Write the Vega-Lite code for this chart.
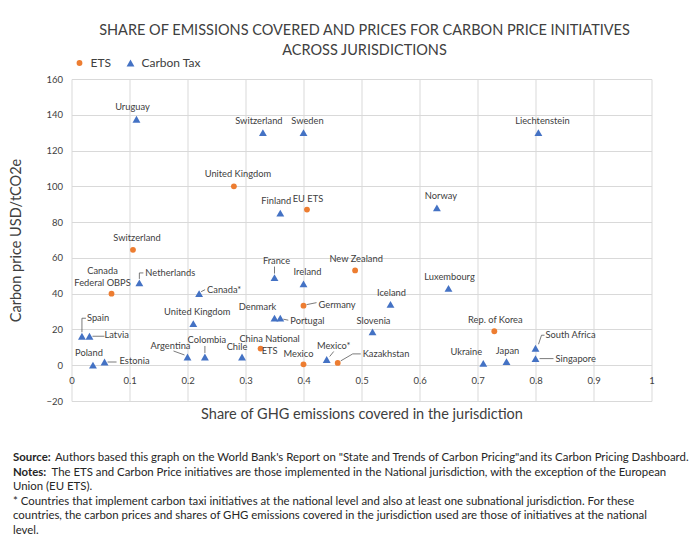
{
  "$schema": "https://vega.github.io/schema/vega-lite/v6.json",
  "padding": {"left": 8.5, "top": 22, "right": 5, "bottom": 5},
  "background": "white",
  "spacing": 29,
  "datasets": {
    "points": [
      {"label": "United Kingdom", "type": "ETS", "share": 0.28, "price": 100},
      {"label": "EU ETS", "type": "ETS", "share": 0.406, "price": 87},
      {"label": "Switzerland", "type": "ETS", "share": 0.106, "price": 64.5},
      {"label": "Canada\nFederal OBPS", "type": "ETS", "share": 0.069, "price": 40},
      {"label": "New Zealand", "type": "ETS", "share": 0.489, "price": 53},
      {"label": "Germany", "type": "ETS", "share": 0.40, "price": 33.3},
      {"label": "China National\nETS", "type": "ETS", "share": 0.326, "price": 9.3},
      {"label": "Mexico", "type": "ETS", "share": 0.40, "price": 0.5},
      {"label": "Kazakhstan", "type": "ETS", "share": 0.459, "price": 1.3},
      {"label": "Rep. of Korea", "type": "ETS", "share": 0.729, "price": 19},
      {"label": "Uruguay", "type": "Carbon Tax", "share": 0.112, "price": 137.5},
      {"label": "Switzerland", "type": "Carbon Tax", "share": 0.33, "price": 130},
      {"label": "Sweden", "type": "Carbon Tax", "share": 0.40, "price": 130},
      {"label": "Liechtenstein", "type": "Carbon Tax", "share": 0.805, "price": 130},
      {"label": "Finland", "type": "Carbon Tax", "share": 0.36, "price": 85},
      {"label": "Norway", "type": "Carbon Tax", "share": 0.63, "price": 88},
      {"label": "France", "type": "Carbon Tax", "share": 0.35, "price": 49},
      {"label": "Ireland", "type": "Carbon Tax", "share": 0.40, "price": 45.5},
      {"label": "Netherlands", "type": "Carbon Tax", "share": 0.117, "price": 46},
      {"label": "Canada*", "type": "Carbon Tax", "share": 0.22, "price": 40},
      {"label": "Luxembourg", "type": "Carbon Tax", "share": 0.65, "price": 43},
      {"label": "Iceland", "type": "Carbon Tax", "share": 0.55, "price": 34},
      {"label": "Denmark", "type": "Carbon Tax", "share": 0.35, "price": 26.3},
      {"label": "Portugal", "type": "Carbon Tax", "share": 0.36, "price": 26.3},
      {"label": "United Kingdom", "type": "Carbon Tax", "share": 0.21, "price": 23.3},
      {"label": "Slovenia", "type": "Carbon Tax", "share": 0.519, "price": 18.6},
      {"label": "Spain", "type": "Carbon Tax", "share": 0.018, "price": 16.2},
      {"label": "Latvia", "type": "Carbon Tax", "share": 0.031, "price": 16.2},
      {"label": "Argentina", "type": "Carbon Tax", "share": 0.20, "price": 4.6},
      {"label": "Colombia", "type": "Carbon Tax", "share": 0.23, "price": 4.6},
      {"label": "Chile", "type": "Carbon Tax", "share": 0.294, "price": 4.6},
      {"label": "Mexico*", "type": "Carbon Tax", "share": 0.44, "price": 3.2},
      {"label": "Poland", "type": "Carbon Tax", "share": 0.037, "price": 0.1},
      {"label": "Estonia", "type": "Carbon Tax", "share": 0.057, "price": 1.8},
      {"label": "South Africa", "type": "Carbon Tax", "share": 0.80, "price": 9.5},
      {"label": "Singapore", "type": "Carbon Tax", "share": 0.80, "price": 3.7},
      {"label": "Ukraine", "type": "Carbon Tax", "share": 0.71, "price": 1},
      {"label": "Japan", "type": "Carbon Tax", "share": 0.75, "price": 2}
    ],
    "notes": [
      {"line": 1, "bold": "Source:", "text": "Authors based this graph on the World Bank's Report on \"State and Trends of Carbon Pricing\"and its Carbon Pricing Dashboard."},
      {"line": 2, "bold": "Notes:", "text": "The ETS and Carbon Price initiatives are those implemented in the National jurisdiction, with the exception of the European"},
      {"line": 3, "bold": "", "text": "Union (EU ETS)."},
      {"line": 4, "bold": "", "text": "* Countries that implement carbon taxi initiatives at the national level and also at least one subnational jurisdiction. For these"},
      {"line": 5, "bold": "", "text": "countries, the carbon prices and shares of GHG emissions covered in the jurisdiction used are those of initiatives at the national"},
      {"line": 6, "bold": "", "text": "level."}
    ]
  },
  "vconcat": [
    {
      "width": 580,
      "height": 322,
      "data": {"name": "points"},
      "title": {
        "text": ["SHARE OF EMISSIONS COVERED AND PRICES FOR CARBON PRICE INITIATIVES", "ACROSS JURISDICTIONS"],
        "font": "Lato", "fontSize": 14.5, "fontWeight": "normal", "color": "#404040",
        "lineHeight": 20, "anchor": "middle", "offset": 16, "dx": 3
      },
      "encoding": {
        "x": {
          "field": "share", "type": "quantitative",
          "scale": {"domain": [0, 1], "nice": false},
          "axis": {
            "title": "Share of GHG emissions covered in the jurisdiction",
            "values": [0, 0.1, 0.2, 0.3, 0.4, 0.5, 0.6, 0.7, 0.8, 0.9, 1],
            "format": "~g", "offset": -35.8, "domain": false, "ticks": false,
            "labelPadding": 10, "labelFlush": false, "titlePadding": 23,
            "titleFont": "Lato", "titleFontSize": 14.5, "titleFontWeight": "normal", "titleColor": "#404040",
            "labelFont": "Lato", "labelFontSize": 9.5, "labelColor": "#404040",
            "grid": true, "gridColor": "#d9d9d9"
          }
        },
        "y": {
          "field": "price", "type": "quantitative",
          "scale": {"domain": [-20, 160], "nice": false},
          "axis": {
            "title": "Carbon price USD/tCO2e",
            "values": [-20, 0, 20, 40, 60, 80, 100, 120, 140, 160],
            "domain": false, "ticks": false, "labelPadding": 9, "labelFlush": false,
            "titlePadding": 22,
            "titleFont": "Lato", "titleFontSize": 14.5, "titleFontWeight": "normal", "titleColor": "#404040",
            "labelFont": "Lato", "labelFontSize": 9.5, "labelColor": "#404040",
            "grid": true, "gridColor": "#d9d9d9"
          }
        }
      },
      "layer": [
        {"transform": [{"filter": "datum.label=='Latvia'"}], "mark": {"type": "rule", "color": "#595959", "strokeWidth": 0.8, "xOffset": 3, "x2Offset": 15}, "encoding": {"x2": {"field": "share"}, "y2": {"field": "price"}}},
        {"transform": [{"filter": "datum.label=='Estonia'"}], "mark": {"type": "rule", "color": "#595959", "strokeWidth": 0.8, "xOffset": 3, "x2Offset": 12}, "encoding": {"x2": {"field": "share"}, "y2": {"field": "price"}}},
        {"transform": [{"filter": "datum.label=='Singapore'"}], "mark": {"type": "rule", "color": "#595959", "strokeWidth": 0.8, "xOffset": 4, "x2Offset": 18}, "encoding": {"x2": {"field": "share"}, "y2": {"field": "price"}}},
        {"transform": [{"filter": "datum.label=='Germany'"}], "mark": {"type": "rule", "color": "#595959", "strokeWidth": 0.8, "xOffset": 3, "yOffset": -1, "x2Offset": 13, "y2Offset": -3}, "encoding": {"x2": {"field": "share"}, "y2": {"field": "price"}}},
        {"transform": [{"filter": "datum.label=='Portugal'"}], "mark": {"type": "rule", "color": "#595959", "strokeWidth": 0.8, "xOffset": 3, "yOffset": 1, "x2Offset": 8, "y2Offset": 2}, "encoding": {"x2": {"field": "share"}, "y2": {"field": "price"}}},
        {"transform": [{"filter": "datum.label=='Kazakhstan'"}], "mark": {"type": "rule", "color": "#595959", "strokeWidth": 0.8, "xOffset": 3, "yOffset": -2, "x2Offset": 15, "y2Offset": -9}, "encoding": {"x2": {"field": "share"}, "y2": {"field": "price"}}},
        {"transform": [{"filter": "datum.label=='Kazakhstan'"}], "mark": {"type": "rule", "color": "#595959", "strokeWidth": 0.8, "xOffset": 15, "yOffset": -9, "x2Offset": 23, "y2Offset": -9}, "encoding": {"x2": {"field": "share"}, "y2": {"field": "price"}}},
        {"transform": [{"filter": "datum.label=='Mexico*'"}], "mark": {"type": "rule", "color": "#595959", "strokeWidth": 0.8, "xOffset": 3, "yOffset": -3, "x2Offset": 7, "y2Offset": -8}, "encoding": {"x2": {"field": "share"}, "y2": {"field": "price"}}},
        {"transform": [{"filter": "datum.label=='Argentina'"}], "mark": {"type": "rule", "color": "#595959", "strokeWidth": 0.8, "xOffset": -3, "yOffset": -2, "x2Offset": -14, "y2Offset": -6}, "encoding": {"x2": {"field": "share"}, "y2": {"field": "price"}}},
        {"transform": [{"filter": "datum.label=='France' || datum.label=='Colombia'"}], "mark": {"type": "rule", "color": "#595959", "strokeWidth": 0.8, "yOffset": -4, "y2Offset": -11}, "encoding": {"x2": {"field": "share"}, "y2": {"field": "price"}}},
        {"transform": [{"filter": "datum.label=='Spain'"}], "mark": {"type": "rule", "color": "#595959", "strokeWidth": 0.8, "yOffset": -4, "y2Offset": -18}, "encoding": {"x2": {"field": "share"}, "y2": {"field": "price"}}},
        {"transform": [{"filter": "datum.label=='Spain'"}], "mark": {"type": "rule", "color": "#595959", "strokeWidth": 0.8, "yOffset": -18, "x2Offset": 4, "y2Offset": -18}, "encoding": {"x2": {"field": "share"}, "y2": {"field": "price"}}},
        {"transform": [{"filter": "datum.label=='Netherlands'"}], "mark": {"type": "rule", "color": "#595959", "strokeWidth": 0.8, "yOffset": -4, "y2Offset": -10}, "encoding": {"x2": {"field": "share"}, "y2": {"field": "price"}}},
        {"transform": [{"filter": "datum.label=='Netherlands'"}], "mark": {"type": "rule", "color": "#595959", "strokeWidth": 0.8, "yOffset": -10, "x2Offset": 4, "y2Offset": -10}, "encoding": {"x2": {"field": "share"}, "y2": {"field": "price"}}},
        {"transform": [{"filter": "datum.label=='Canada*'"}], "mark": {"type": "rule", "color": "#595959", "strokeWidth": 0.8, "xOffset": 2, "yOffset": -2, "x2Offset": 6, "y2Offset": -4}, "encoding": {"x2": {"field": "share"}, "y2": {"field": "price"}}},
        {"transform": [{"filter": "datum.label=='South Africa'"}], "mark": {"type": "rule", "color": "#595959", "strokeWidth": 0.8, "xOffset": 3, "yOffset": -4, "x2Offset": 6, "y2Offset": -13}, "encoding": {"x2": {"field": "share"}, "y2": {"field": "price"}}},
        {"transform": [{"filter": "datum.label=='South Africa'"}], "mark": {"type": "rule", "color": "#595959", "strokeWidth": 0.8, "xOffset": 6, "yOffset": -13, "x2Offset": 9, "y2Offset": -13}, "encoding": {"x2": {"field": "share"}, "y2": {"field": "price"}}},
        {
          "mark": {"type": "point", "filled": true, "opacity": 1},
          "encoding": {
            "color": {"field": "type", "type": "nominal", "scale": {"domain": ["ETS", "Carbon Tax"], "range": ["#ED7D31", "#4472C4"]},
              "legend": {"title": null, "orient": "none", "legendX": 2, "legendY": -22, "direction": "horizontal", "labelFont": "Lato", "labelFontSize": 12, "labelColor": "#404040", "symbolSize": 40, "columnPadding": 13, "labelOffset": 5}},
            "shape": {"field": "type", "type": "nominal", "scale": {"domain": ["ETS", "Carbon Tax"], "range": ["circle", "triangle-up"]}},
            "size": {"field": "type", "type": "nominal", "scale": {"domain": ["ETS", "Carbon Tax"], "range": [34, 62]}, "legend": null}
          }
        },
        {"transform": [{"filter": {"or": [{"field": "label", "oneOf": ["Uruguay", "Finland", "Poland"]}, "datum.label=='Switzerland' && datum.type=='Carbon Tax'"]}}],
          "mark": {"type": "text", "dx": -4, "dy": -12, "align": "center", "baseline": "middle", "font": "Lato", "fontSize": 9.3, "color": "#404040"}, "encoding": {"text": {"field": "label"}}},
        {"transform": [{"filter": {"field": "label", "oneOf": ["Chile", "Mexico"]}}],
          "mark": {"type": "text", "dx": -5, "dy": -10, "align": "center", "baseline": "middle", "font": "Lato", "fontSize": 9.3, "color": "#404040"}, "encoding": {"text": {"field": "label"}}},
        {"transform": [{"filter": {"or": [{"field": "label", "oneOf": ["Sweden", "United Kingdom", "Liechtenstein", "Norway", "Ireland"]}, "datum.label=='Switzerland' && datum.type=='ETS'"]}}],
          "mark": {"type": "text", "dx": 4, "dy": -12, "align": "center", "baseline": "middle", "font": "Lato", "fontSize": 9.3, "color": "#404040"}, "encoding": {"text": {"field": "label"}}},
        {"transform": [{"filter": {"field": "label", "oneOf": ["Mexico*"]}}],
          "mark": {"type": "text", "dx": 7, "dy": -13, "align": "center", "baseline": "middle", "font": "Lato", "fontSize": 9.3, "color": "#404040"}, "encoding": {"text": {"field": "label"}}},
        {"transform": [{"filter": {"field": "label", "oneOf": ["EU ETS", "New Zealand", "Slovenia", "Luxembourg", "Iceland", "Rep. of Korea", "Japan"]}}],
          "mark": {"type": "text", "dx": 1, "dy": -11, "align": "center", "baseline": "middle", "font": "Lato", "fontSize": 9.3, "color": "#404040"}, "encoding": {"text": {"field": "label"}}},
        {"transform": [{"filter": {"field": "label", "oneOf": ["France", "Colombia"]}}],
          "mark": {"type": "text", "dx": 2, "dy": -17, "align": "center", "baseline": "middle", "font": "Lato", "fontSize": 9.3, "color": "#404040"}, "encoding": {"text": {"field": "label"}}},
        {"transform": [{"filter": {"field": "label", "oneOf": ["Denmark", "Ukraine", "Argentina"]}}],
          "mark": {"type": "text", "dx": -17, "dy": -11, "align": "center", "baseline": "middle", "font": "Lato", "fontSize": 9.3, "color": "#404040"}, "encoding": {"text": {"field": "label"}}},
        {"transform": [{"filter": {"field": "label", "oneOf": ["Latvia", "Estonia", "Germany"]}}],
          "mark": {"type": "text", "dx": 15, "dy": -1, "align": "left", "baseline": "middle", "font": "Lato", "fontSize": 9.3, "color": "#404040"}, "encoding": {"text": {"field": "label"}}},
        {"transform": [{"filter": {"field": "label", "oneOf": ["Singapore"]}}],
          "mark": {"type": "text", "dx": 20, "dy": 0, "align": "left", "baseline": "middle", "font": "Lato", "fontSize": 9.3, "color": "#404040"}, "encoding": {"text": {"field": "label"}}},
        {"transform": [{"filter": {"field": "label", "oneOf": ["Kazakhstan"]}}],
          "mark": {"type": "text", "dx": 25, "dy": -9, "align": "left", "baseline": "middle", "font": "Lato", "fontSize": 9.3, "color": "#404040"}, "encoding": {"text": {"field": "label"}}},
        {"transform": [{"filter": {"field": "label", "oneOf": ["Canada*"]}}],
          "mark": {"type": "text", "dx": 8, "dy": -4, "align": "left", "baseline": "middle", "font": "Lato", "fontSize": 9.3, "color": "#404040"}, "encoding": {"text": {"field": "label"}}},
        {"transform": [{"filter": {"field": "label", "oneOf": ["Portugal"]}}],
          "mark": {"type": "text", "dx": 10, "dy": 3, "align": "left", "baseline": "middle", "font": "Lato", "fontSize": 9.3, "color": "#404040"}, "encoding": {"text": {"field": "label"}}},
        {"transform": [{"filter": {"field": "label", "oneOf": ["Netherlands"]}}],
          "mark": {"type": "text", "dx": 6, "dy": -10, "align": "left", "baseline": "middle", "font": "Lato", "fontSize": 9.3, "color": "#404040"}, "encoding": {"text": {"field": "label"}}},
        {"transform": [{"filter": {"field": "label", "oneOf": ["South Africa"]}}],
          "mark": {"type": "text", "dx": 10, "dy": -13, "align": "left", "baseline": "middle", "font": "Lato", "fontSize": 9.3, "color": "#404040"}, "encoding": {"text": {"field": "label"}}},
        {"transform": [{"filter": {"field": "label", "oneOf": ["Spain"]}}],
          "mark": {"type": "text", "dx": 5, "dy": -18, "align": "left", "baseline": "middle", "font": "Lato", "fontSize": 9.3, "color": "#404040"}, "encoding": {"text": {"field": "label"}}},
        {"transform": [{"filter": {"field": "label", "oneOf": ["Canada\nFederal OBPS"]}}],
          "mark": {"type": "text", "dx": -9, "dy": -23, "align": "center", "baseline": "middle", "lineBreak": "\n", "lineHeight": 12, "font": "Lato", "fontSize": 9.3, "color": "#404040"}, "encoding": {"text": {"field": "label"}}},
        {"transform": [{"filter": {"field": "label", "oneOf": ["China National\nETS"]}}],
          "mark": {"type": "text", "dx": 9, "dy": -10, "align": "center", "baseline": "middle", "lineBreak": "\n", "lineHeight": 12, "font": "Lato", "fontSize": 9.3, "color": "#404040"}, "encoding": {"text": {"field": "label"}}}
      ]
    },
    {
      "width": 600,
      "height": 87,
      "data": {"name": "notes"},
      "encoding": {
        "y": {"field": "line", "type": "ordinal", "axis": null, "scale": {"type": "point", "padding": 0.5}}
      },
      "layer": [
        {"mark": {"type": "text", "align": "left", "baseline": "middle", "font": "Lato", "fontSize": 11.4, "fontWeight": "bold", "color": "#262626"},
          "encoding": {"x": {"value": -58.5}, "text": {"field": "bold"}}},
        {"transform": [{"filter": "datum.line == 1"}], "mark": {"type": "text", "align": "left", "baseline": "middle", "dx": 42, "font": "Lato", "fontSize": 11.4, "color": "#262626"},
          "encoding": {"x": {"value": -58.5}, "text": {"field": "text"}}},
        {"transform": [{"filter": "datum.line == 2"}], "mark": {"type": "text", "align": "left", "baseline": "middle", "dx": 38.5, "font": "Lato", "fontSize": 11.4, "color": "#262626"},
          "encoding": {"x": {"value": -58.5}, "text": {"field": "text"}}},
        {"transform": [{"filter": "datum.line > 2"}], "mark": {"type": "text", "align": "left", "baseline": "middle", "font": "Lato", "fontSize": 11.4, "color": "#262626"},
          "encoding": {"x": {"value": -58.5}, "text": {"field": "text"}}}
      ]
    }
  ],
  "config": {
    "view": {"stroke": null}
  }
}
